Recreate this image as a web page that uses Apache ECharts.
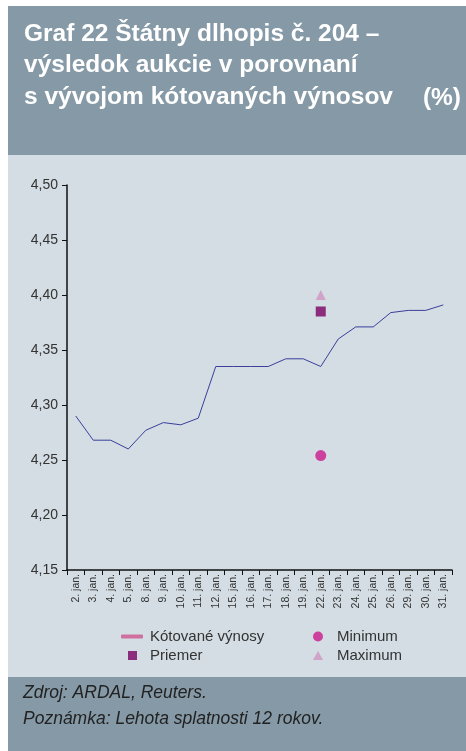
<!DOCTYPE html>
<html>
<head>
<meta charset="utf-8">
<script src="https://cdn.jsdelivr.net/npm/echarts@6/dist/echarts.min.js"></script>
<style>
  html, body { margin: 0; padding: 0; background: #fff; }
  #main { width: 466px; height: 751px; }
</style>
</head>
<body>
<div id="main"></div>
<script>
// data
let days = ['2. jan.', '3. jan.', '4. jan.', '5. jan.', '8. jan.', '9. jan.', '10. jan.', '11. jan.',
    '12. jan.', '15. jan.', '16. jan.', '17. jan.', '18. jan.', '19. jan.', '22. jan.', '23. jan.',
    '24. jan.', '25. jan.', '26. jan.', '29. jan.', '30. jan.', '31. jan.'];
let yields = [4.290, 4.268, 4.268, 4.260, 4.277, 4.284, 4.282, 4.288,
    4.335, 4.335, 4.335, 4.335, 4.342, 4.342, 4.335, 4.360,
    4.371, 4.371, 4.384, 4.386, 4.386, 4.391];
let auctionDay = '22. jan.';
let minimum = 4.254;
let average = 4.385;
let maximum = 4.400;

let font = 'Liberation Sans';
let myChart = echarts.init(document.getElementById('main'));

let option = {
    backgroundColor: '#ffffff',
    animation: false,
    textStyle: { fontFamily: font },
    graphic: [
        { type: 'rect', silent: true, z: -10, shape: { x: 8, y: 6, width: 458, height: 149 }, style: { fill: '#8599a6' } },
        { type: 'rect', silent: true, z: -10, shape: { x: 8, y: 155, width: 458, height: 522 }, style: { fill: '#d3dde3' } },
        { type: 'rect', silent: true, z: -10, shape: { x: 8, y: 677, width: 458, height: 74 }, style: { fill: '#8599a6' } }
    ],
    title: [
        {
            text: 'Graf 22 Štátny dlhopis č. 204 –\nvýsledok aukcie v porovnaní\ns vývojom kótovaných výnosov',
            left: 24, top: 18, padding: 0,
            textStyle: { color: '#fff', fontSize: 24.5, fontWeight: 'bold', lineHeight: 31.5, fontFamily: font }
        },
        {
            text: '(%)',
            right: 5, top: 82, padding: 0,
            textStyle: { color: '#fff', fontSize: 24.5, fontWeight: 'bold', lineHeight: 31.5, fontFamily: font }
        },
        {
            text: 'Zdroj: ARDAL, Reuters.\nPoznámka: Lehota splatnosti 12 rokov.',
            left: 23, top: 680, padding: 0,
            textStyle: { color: '#222', fontSize: 17.5, fontStyle: 'italic', fontWeight: 'normal', lineHeight: 26, fontFamily: font }
        }
    ],
    legend: [
        {
            left: 121, top: 629, padding: 0, itemWidth: 22, itemHeight: 4, itemGap: 6,
            data: [{ name: 'Kótované výnosy', icon: 'roundRect', itemStyle: { color: '#d070a0' } }],
            textStyle: { color: '#333', fontSize: 15, padding: [0, 0, 0, 2] }
        },
        {
            left: 128, top: 648, padding: 0, itemWidth: 9, itemHeight: 9, itemGap: 6,
            data: [{ name: 'Priemer', icon: 'rect' }],
            textStyle: { color: '#333', fontSize: 15, padding: [0, 0, 0, 8] }
        },
        {
            left: 313, top: 629, padding: 0, itemWidth: 10, itemHeight: 10,
            data: [{ name: 'Minimum', icon: 'circle' }],
            textStyle: { color: '#333', fontSize: 15, padding: [0, 0, 0, 9] }
        },
        {
            left: 313, top: 648, padding: 0, itemWidth: 10, itemHeight: 9,
            data: [{ name: 'Maximum', icon: 'triangle' }],
            textStyle: { color: '#333', fontSize: 15, padding: [0, 0, 0, 9] }
        }
    ],
    grid: { left: 67, right: 14, top: 185, bottom: 181, containLabel: false },
    xAxis: {
        type: 'category',
        data: days,
        boundaryGap: true,
        axisLine: { lineStyle: { color: '#111', width: 1.5 } },
        axisTick: { show: true, length: 5, lineStyle: { color: '#111' } },
        axisLabel: { rotate: 90, interval: 0, color: '#333', fontSize: 10.5, margin: 4 }
    },
    yAxis: {
        type: 'value',
        min: 4.15, max: 4.50, interval: 0.05,
        splitLine: { show: false },
        axisLine: { show: true, lineStyle: { color: '#111', width: 1.5 } },
        axisTick: { show: true, length: 5, lineStyle: { color: '#111' } },
        axisLabel: {
            color: '#333', fontSize: 14, margin: 9,
            formatter: function (v) { return v.toFixed(2).replace('.', ','); }
        }
    },
    series: [
        {
            name: 'Kótované výnosy',
            type: 'line',
            data: yields,
            showSymbol: false,
            symbol: 'none',
            lineStyle: { color: '#3a3f9c', width: 1 },
            itemStyle: { color: '#d070a0' }
        },
        {
            name: 'Minimum',
            type: 'scatter',
            data: [[auctionDay, minimum]],
            symbol: 'circle', symbolSize: 11,
            itemStyle: { color: '#cc1a8c' }
        },
        {
            name: 'Priemer',
            type: 'scatter',
            data: [[auctionDay, average]],
            symbol: 'rect', symbolSize: 10,
            itemStyle: { color: '#7a0062' }
        },
        {
            name: 'Maximum',
            type: 'scatter',
            data: [[auctionDay, maximum]],
            symbol: 'triangle', symbolSize: 10,
            itemStyle: { color: '#d295c2' }
        }
    ]
};
myChart.setOption(option);
</script>
</body>
</html>
